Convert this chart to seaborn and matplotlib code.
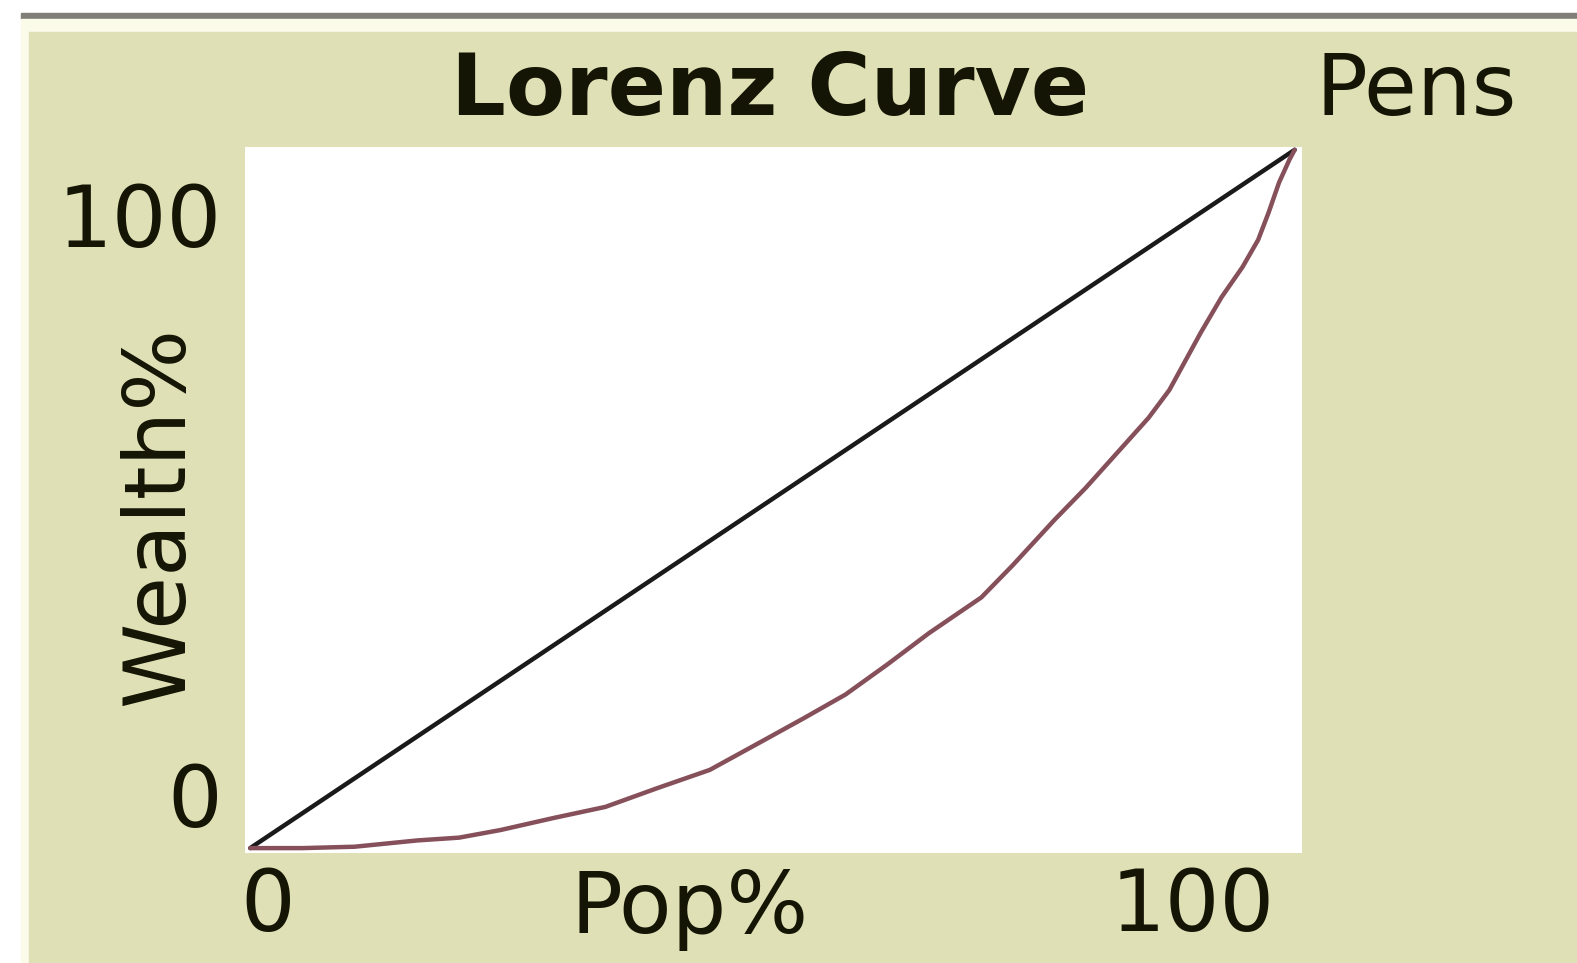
import matplotlib
matplotlib.use("Agg")
import matplotlib.pyplot as plt
import seaborn as sns
import pandas as pd
from matplotlib.patches import Rectangle

# Data
pop_pct = [0, 5, 10, 16, 20, 24, 29, 34, 39, 44, 49, 53, 57, 61, 65, 70, 73,
           77, 80, 83, 86, 88, 91, 93, 95, 96.5, 97.5, 98.5, 99.5, 100]
wealth_pct = [0, 0, 0.2, 1.1, 1.5, 2.6, 4.3, 5.9, 8.6, 11.2, 15.3, 18.6, 22.0,
              26.3, 30.8, 35.9, 40.5, 47.0, 51.6, 56.6, 61.6, 65.6, 73.8, 78.9,
              83.2, 87.1, 91.0, 95.3, 98.6, 100]
equal_x = [0, 100]
equal_y = [0, 100]

lorenz = pd.DataFrame({"Pop%": pop_pct, "Wealth%": wealth_pct})
equal = pd.DataFrame({"Pop%": equal_x, "Wealth%": equal_y})

sns.set_style("white")
plt.rcParams['font.family'] = ['DejaVu Sans']

W, H = 1577, 963
fig = plt.figure(figsize=(W / 100, H / 100), dpi=100, facecolor="white")

def fx(px):
    return px / W

def fy(py):
    return 1 - py / H

# widget frame: gray line on top, pale strip, beige panel
fig.patches.append(Rectangle((fx(21), fy(19)), fx(W - 21), 6 / H,
                             transform=fig.transFigure, color="#7f7f78", zorder=-3))
fig.patches.append(Rectangle((fx(21), 0), fx(W - 21), fy(19),
                             transform=fig.transFigure, color="#fbfbea", zorder=-3))
fig.patches.append(Rectangle((fx(29), 0), fx(W - 29), fy(32),
                             transform=fig.transFigure, color="#dfe0b5", zorder=-2))

# plot area
ax = fig.add_axes([fx(245), fy(853), fx(1302 - 245), (853 - 147) / H])
ax.set_zorder(2)
ax.set_facecolor("white")
sns.lineplot(data=equal, x="Pop%", y="Wealth%", ax=ax, color="#1a1a1a",
             linewidth=3.2, sort=False)
sns.lineplot(data=lorenz, x="Pop%", y="Wealth%", ax=ax, color="#86505a",
             linewidth=3.2, sort=False)
ax.set_xlim(-0.5, 100.7)
ax.set_ylim(-0.7, 100.4)
ax.set_xticks([])
ax.set_yticks([])
ax.set_xlabel("")
ax.set_ylabel("")
for s in ax.spines.values():
    s.set_visible(False)

fs = 62
tc = "#151505"
fig.text(fx(770), fy(92), "Lorenz Curve", fontsize=fs, fontweight="bold",
         ha="center", va="center", color=tc)
fig.text(fx(1316), fy(92), "Pens", fontsize=fs, ha="left", va="center", color=tc)
fig.text(fx(222), fy(224), "100", fontsize=fs, ha="right", va="center", color=tc)
fig.text(fx(222), fy(803), "0", fontsize=fs, ha="right", va="center", color=tc)
fig.text(fx(160), fy(516), "Wealth%", fontsize=fs, rotation=90,
         ha="center", va="center", color=tc)
fig.text(fx(268), fy(907), "0", fontsize=fs, ha="center", va="center", color=tc)
fig.text(fx(690), fy(909), "Pop%", fontsize=fs, ha="center", va="center", color=tc)
fig.text(fx(1275), fy(907), "100", fontsize=fs, ha="right", va="center", color=tc)

fig.savefig("out.png", dpi=100, facecolor="white")
